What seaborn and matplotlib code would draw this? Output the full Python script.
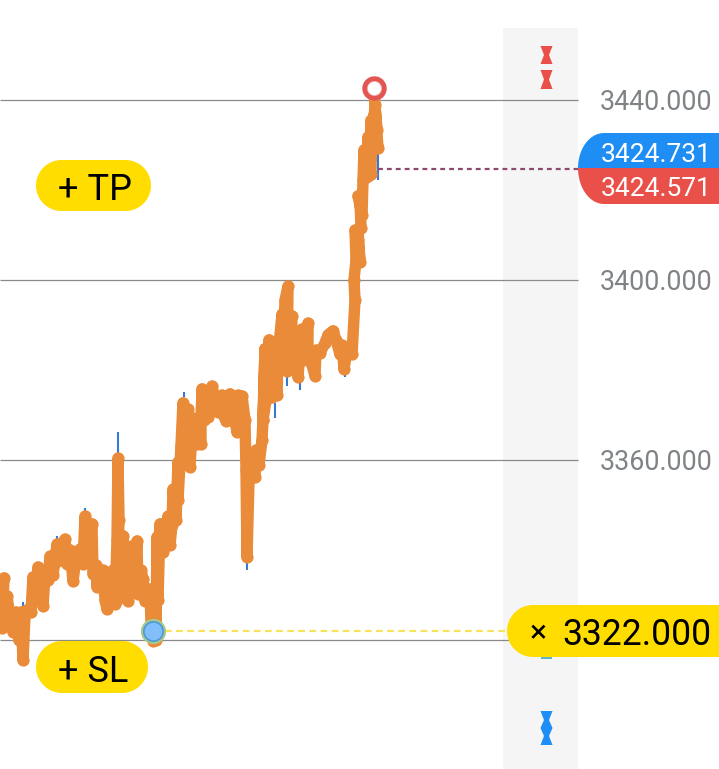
import numpy as np
import pandas as pd
import matplotlib
matplotlib.use("Agg")
import matplotlib.pyplot as plt
import seaborn as sns
from matplotlib.patches import Polygon, Rectangle
from matplotlib.transforms import Affine2D

# price path
bars = [0, 4, 2, 7, 10, 13, 16, 19, 21, 23, 25, 27, 31, 33, 36, 38, 41, 43, 45, 48, 50, 53, 57, 58,
        61, 65, 67, 70, 73, 76, 80, 83, 85, 88, 92, 93, 96, 97, 100, 103, 105, 107, 108, 111, 113,
        115, 117, 118, 119, 117, 121, 123, 124, 126, 128, 128, 131, 132, 134, 137, 138, 141, 143,
        145, 147, 150, 151, 153, 155, 156, 157, 158, 160, 163, 165, 168, 170, 172, 173, 176, 178,
        178, 181, 183, 186, 188, 187, 190, 192, 195, 193, 197, 201, 201, 202, 204, 208, 206, 210,
        212, 215, 218, 222, 224, 226, 230, 233, 237, 238, 242, 245, 246, 247, 249, 250, 252, 255, 256,
        259, 262, 263, 265, 263, 266, 269, 272, 274, 277, 278, 282, 283, 285, 288, 287, 284, 292, 291,
        290, 293, 295, 298, 300, 302, 303, 308, 308, 312, 315, 316, 320, 325, 328, 333, 336, 340, 342,
        344, 347, 348, 352, 355, 354, 356, 355, 358, 360, 358, 361, 360, 358, 362, 363, 364, 366, 368,
        368, 371, 371, 372, 375, 378, 375, 370, 374, 377, 374]
prices = [3326.7, 3333.8, 3322.7, 3329.8, 3324.9, 3321.8, 3326.2, 3320.0, 3326.2, 3315.5, 3325.5,
          3326.7, 3326.2, 3334.0, 3328.9, 3336.2, 3331.1, 3327.5, 3334.4, 3333.3, 3338.6, 3334.4,
          3341.3, 3337.5, 3341.1, 3342.4, 3336.9, 3340.0, 3333.1, 3338.2, 3340.2, 3336.9, 3347.5,
          3338.9, 3345.8, 3334.7, 3336.7, 3331.8, 3335.5, 3335.5, 3328.9, 3326.9, 3332.7, 3330.0,
          3335.5, 3328.0, 3342.2, 3360.4, 3346.7, 3328.9, 3337.8, 3343.1, 3331.1, 3337.8, 3328.7,
          3337.1, 3332.4, 3340.9, 3332.4, 3342.0, 3330.2, 3335.5, 3333.5, 3328.7, 3331.1, 3331.3,
          3323.3, 3319.8, 3328.9, 3320.0, 3342.9, 3328.9, 3345.8, 3339.5, 3343.3, 3347.5, 3341.1,
          3345.5, 3353.5, 3346.7, 3359.5, 3351.1, 3363.3, 3372.7, 3364.4, 3371.3, 3361.1, 3358.4,
          3366.7, 3363.5, 3369.3, 3363.5, 3363.5, 3368.9, 3375.8, 3368.9, 3369.5, 3374.4, 3373.3,
          3376.4, 3373.3, 3370.7, 3374.4, 3369.8, 3368.7, 3374.7, 3371.1, 3366.2, 3374.4, 3374.2, 3368.9,
          3357.8, 3338.4, 3355.5, 3360.2, 3356.7, 3356.2, 3362.2, 3358.9, 3364.4, 3368.9, 3384.7,
          3368.9, 3373.3, 3386.7, 3374.0, 3380.0, 3374.4, 3383.3, 3392.4, 3382.2, 3395.5, 3398.6,
          3379.8, 3387.8, 3392.0, 3382.7, 3386.7, 3385.1, 3382.2, 3378.4, 3384.4, 3389.1, 3382.2,
          3390.4, 3384.4, 3381.1, 3378.7, 3384.4, 3383.8, 3386.0, 3387.8, 3388.7, 3386.7, 3383.5,
          3385.5, 3380.2, 3384.4, 3384.7, 3383.5, 3395.6, 3400.0, 3404.4, 3411.1, 3408.9, 3404.0,
          3411.1, 3411.5, 3417.8, 3418.7, 3414.4, 3422.2, 3428.9, 3422.9, 3431.8, 3423.1, 3423.6,
          3435.5, 3428.9, 3438.9, 3429.3, 3433.3, 3425.6, 3436.7, 3433.3, 3441.5]

# thin wicks sticking out of the thick line
wick_bars = [118, 378, 247, 275, 287, 300, 345, 184, 85, 57, 23]
wick_low = [3360.7, 3422.2, 3335.5, 3369.3, 3376.4, 3375.6, 3378.4, 3374.0, 3347.5, 3341.3, 3327.0]
wick_high = [3366.2, 3429.3, 3338.4, 3372.7, 3378.4, 3377.1, 3379.3, 3375.0, 3349.3, 3343.0, 3328.4]

grid_levels = [3440, 3400, 3360, 3320]
grid_labels = ["3440.000", "3400.000", "3360.000"]
ask_label = "3424.731"
bid_label = "3424.571"
bid_price = 3424.65
sl_price = 3322.0
sl_label = "3322.000"
entry_bar, entry_price = 153, 3322.0
high_bar, high_price = 374, 3442.7

sns.set_theme(style="white")
plt.rcParams['font.family'] = ['Roboto', 'DejaVu Sans']

fig = plt.figure(figsize=(7.19, 7.69), dpi=100)
ax = fig.add_axes([0, 0, 1, 1])

# pixel coords, origin top left, for the app chrome
px = Affine2D().scale(1, -1).translate(0, 769)

YELLOW = "#FFDD00"
ORANGE = "#E98B38"
RED = "#E9504A"
BLUE = "#1E8EF5"
GRAY = "#7F8385"

ax.add_patch(Rectangle((503, 28), 75, 741, color="#F5F5F5", lw=0, transform=px, zorder=0))
ax.hlines(grid_levels, 0, 578, color="#8A8A8A", lw=0.9, zorder=1)
for lev, lab in zip(grid_levels, grid_labels):
    ax.text(600, lev, lab, color=GRAY, fontsize=19.4, va="center_baseline", ha="left", zorder=5)

df = pd.DataFrame({"bar": bars, "price": prices})
sns.lineplot(data=df, x="bar", y="price", sort=False, estimator=None, ax=ax, color="#3A78D8", lw=1.5, zorder=2)
ax.vlines(wick_bars, wick_low, wick_high, color="#3A78D8", lw=1.5, zorder=2)
sns.lineplot(data=df, x="bar", y="price", sort=False, estimator=None, ax=ax, color=ORANGE, lw=8.2,
             marker="o", markersize=8.8, markeredgewidth=0, zorder=3,
             solid_capstyle="round", solid_joinstyle="round")
ax.set_xlim(0, 719)
ax.set_ylim(3291.33, 3462.22)
ax.axis("off")

ax.hlines(bid_price, 378, 578, color="#8E4A6E", lw=1.6, linestyles=(0, (2.2, 1.8)), zorder=2)
ax.hlines(sl_price, 165, 507, color="#F7E35A", lw=1.6, linestyles=(0, (3, 2)), zorder=2)

ax.scatter([entry_bar], [entry_price], s=330, color="#A9C98C", linewidth=0, zorder=4)
ax.scatter([entry_bar], [entry_price], s=230, color="#4D9BD6", linewidth=0, zorder=4)
ax.scatter([entry_bar], [entry_price], s=160, color="#82BFFA", linewidth=0, zorder=4)
ax.scatter([high_bar], [high_price], s=200, color="#F6B9B6", edgecolor="#E25550", linewidth=3.4, zorder=4)
ax.scatter([high_bar], [high_price], s=90, color="white", linewidth=0, zorder=4)


def pill(x0, y0, x1, y1):
    r = (y1 - y0) / 2
    a = np.linspace(np.pi / 2, 3 * np.pi / 2, 30)
    left = [(x0 + r + r * np.cos(v), (y0 + y1) / 2 - r * np.sin(v)) for v in a]
    right = [(x1 - r - r * np.cos(v), (y0 + y1) / 2 + r * np.sin(v)) for v in a]
    ax.add_patch(Polygon(left + right, fc=YELLOW, ec="none", transform=px, zorder=6))


pill(36, 160, 151, 211)
pill(36, 641, 148, 693)
pill(507, 605, 780, 657)
ax.text(58, 185.5, "+ TP", fontsize=26, color="black", va="center_baseline", ha="left", transform=px, zorder=7)
ax.text(58, 667.5, "+ SL", fontsize=26, color="black", va="center_baseline", ha="left", transform=px, zorder=7)
ax.text(530, 631, "×", fontsize=23, color="black", va="center_baseline", ha="left", transform=px, zorder=7)
ax.text(562, 631, sl_label, fontsize=25.6, color="black", va="center_baseline", ha="left", transform=px, zorder=7)

# price tags with one rounded corner
t = np.linspace(0, np.pi / 2, 20)
blue_tag = [(578 + 26 * (1 - np.cos(a)), 168 - 35 * np.sin(a)) for a in t] + [(719, 133), (719, 168)]
red_tag = [(578 + 26 * (1 - np.cos(a)), 168 + 36 * np.sin(a)) for a in t] + [(719, 204), (719, 168)]
ax.add_patch(Polygon(blue_tag, fc=BLUE, ec="none", transform=px, zorder=6))
ax.add_patch(Polygon(red_tag, fc=RED, ec="none", transform=px, zorder=6))
ax.text(601, 152, ask_label, fontsize=19, color="white", va="center_baseline", ha="left", transform=px, zorder=7)
ax.text(601, 187, bid_label, fontsize=19, color="white", va="center_baseline", ha="left", transform=px, zorder=7)

# hourglass handles
for y0, y1 in [(46, 64), (70, 89)]:
    m = (y0 + y1) / 2
    ax.add_patch(Polygon([(540.5, y0), (552.5, y0), (549, m), (552.5, y1), (540.5, y1), (544, m)],
                         fc=RED, ec="none", transform=px, zorder=6))
ax.add_patch(Polygon([(540.5, 711), (552.5, 711), (549, 720), (552.5, 728), (549, 736), (552.5, 745),
                      (540.5, 745), (544, 736), (540.5, 728), (544, 720)],
                     fc=BLUE, ec="none", transform=px, zorder=6))
ax.add_patch(Rectangle((541, 657), 11, 2, fc="#5FB3C9", ec="none", transform=px, zorder=5))

fig.savefig("out.png", dpi=100)
